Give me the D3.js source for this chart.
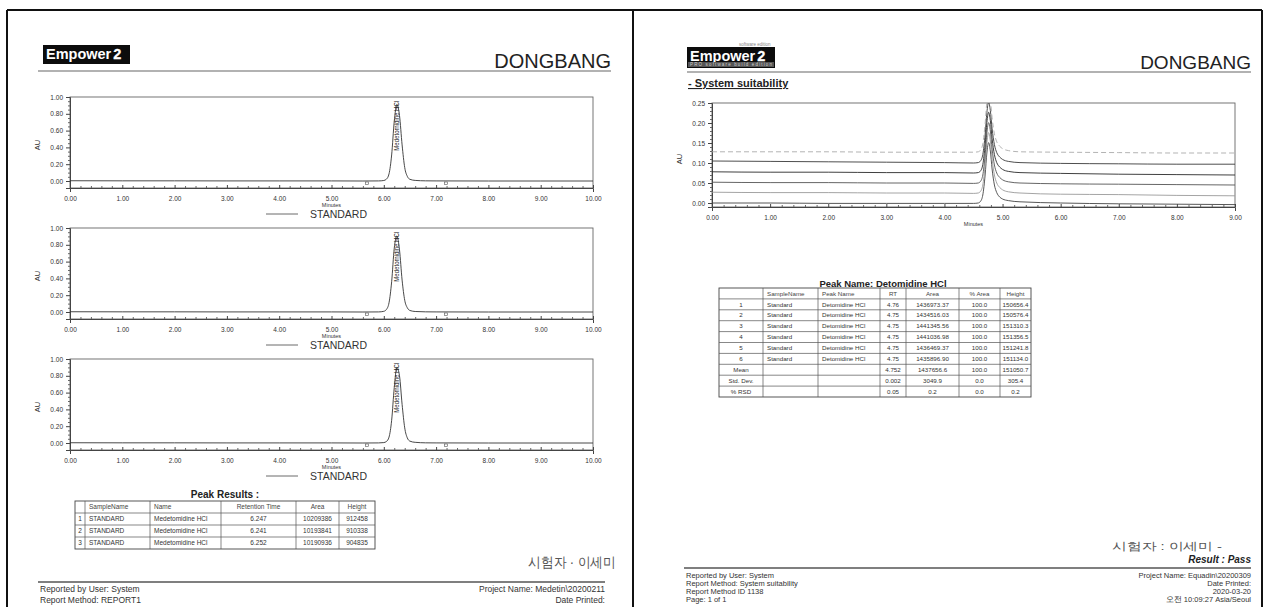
<!DOCTYPE html>
<html><head><meta charset="utf-8">
<script src="https://cdn.jsdelivr.net/npm/d3@7"></script>
<style>
body{margin:0;background:#fff}
svg{display:block}
text{font-family:Arial,"Liberation Sans",sans-serif;fill:#222}
</style></head><body><script>
// ---------------- DATA ----------------
const stdTime = [0,1,2,3,4,5,5.6,5.9,6.0,6.05,6.1,6.15,6.2,6.25,6.3,6.35,6.4,6.45,6.5,6.6,6.8,7.0,8,9,10];
const std1AU = [0.003,0.002,0.002,0.001,0.001,0.001,0.000,0.001,0.006,0.022,0.085,0.31,0.71,0.912,0.78,0.43,0.16,0.055,0.02,0.007,0.002,0.001,0.000,0.000,0.000];
const std2AU = [0.003,0.002,0.002,0.001,0.001,0.001,0.000,0.001,0.008,0.030,0.110,0.36,0.76,0.905,0.74,0.38,0.14,0.050,0.018,0.006,0.002,0.001,0.000,0.000,0.000];
const std3AU = [0.003,0.002,0.002,0.001,0.001,0.001,0.000,0.001,0.005,0.018,0.070,0.27,0.66,0.900,0.80,0.46,0.18,0.060,0.022,0.008,0.002,0.001,0.000,0.000,0.000];
const stdMarkers = [5.68, 7.19];
const leftXTicks = [0,1,2,3,4,5,6,7,8,9,10];
const leftYTicks = [0,0.2,0.4,0.6,0.8,1.0];
const peakLabel = "Medetomidine HCl";
const legendLabel = "STANDARD";

const sysTime = [0,1,2,3,4,4.5,4.58,4.62,4.66,4.7,4.73,4.76,4.79,4.82,4.86,4.9,4.95,5.0,5.1,5.3,6,7,8,9];
const sysInj1 = [0.000,0.000,-0.001,-0.001,-0.001,-0.001,0.000,0.004,0.020,0.070,0.125,0.151,0.130,0.085,0.045,0.026,0.015,0.010,0.006,0.003,0.000,-0.002,-0.003,-0.004];
const sysInj2 = [0.027,0.026,0.026,0.025,0.025,0.024,0.025,0.029,0.045,0.095,0.150,0.176,0.155,0.110,0.070,0.050,0.039,0.033,0.028,0.025,0.022,0.021,0.019,0.018];
const sysInj3 = [0.052,0.051,0.051,0.050,0.050,0.049,0.050,0.054,0.070,0.120,0.175,0.201,0.180,0.135,0.095,0.075,0.064,0.058,0.053,0.050,0.048,0.047,0.046,0.045];
const sysInj4 = [0.078,0.077,0.077,0.076,0.076,0.075,0.076,0.080,0.096,0.146,0.201,0.227,0.206,0.161,0.121,0.101,0.090,0.084,0.079,0.076,0.074,0.072,0.071,0.070];
const sysInj5 = [0.105,0.104,0.103,0.102,0.101,0.100,0.101,0.105,0.121,0.171,0.226,0.252,0.231,0.186,0.146,0.126,0.115,0.109,0.104,0.101,0.099,0.098,0.097,0.097];
const sysInj6 = [0.128,0.128,0.128,0.127,0.127,0.127,0.128,0.132,0.148,0.198,0.253,0.279,0.258,0.213,0.173,0.153,0.142,0.136,0.131,0.128,0.127,0.126,0.125,0.125];
const rightXTicks = [0,1,2,3,4,5,6,7,8,9];
const rightYTicks = [0,0.05,0.10,0.15,0.20,0.25];

const peakResultsHead = ["", "SampleName", "Name", "Retention Time", "Area", "Height"];
const peakResultsRows = [
  ["1","STANDARD","Medetomidine HCl","6.247","10209386","912458"],
  ["2","STANDARD","Medetomidine HCl","6.241","10193841","910338"],
  ["3","STANDARD","Medetomidine HCl","6.252","10190936","904835"]
];
const suitHead = ["", "SampleName", "Peak Name", "RT", "Area", "% Area", "Height"];
const suitRows = [
  ["1","Standard","Detomidine HCl","4.76","1436973.37","100.0","150656.4"],
  ["2","Standard","Detomidine HCl","4.75","1434516.03","100.0","150576.4"],
  ["3","Standard","Detomidine HCl","4.75","1441345.56","100.0","151310.3"],
  ["4","Standard","Detomidine HCl","4.75","1441036.98","100.0","151356.5"],
  ["5","Standard","Detomidine HCl","4.75","1436469.37","100.0","151241.8"],
  ["6","Standard","Detomidine HCl","4.75","1435896.90","100.0","151134.0"],
  ["Mean","","","4.752","1437656.6","100.0","151050.7"],
  ["Std. Dev.","","","0.002","3049.9","0.0","305.4"],
  ["% RSD","","","0.05","0.2","0.0","0.2"]
];

// ---------------- DRAW ----------------
const W = 1265, H = 607;
const svg = d3.select("body").append("svg").attr("width", W).attr("height", H);
svg.append("rect").attr("width", W).attr("height", H).attr("fill", "#fff");

// page borders
const border = svg.append("g").attr("stroke", "#111").attr("stroke-width", 2).attr("fill", "none");
border.append("line").attr("x1", 7).attr("x2", 1262).attr("y1", 10).attr("y2", 10);
border.append("line").attr("x1", 7).attr("x2", 7).attr("y1", 10).attr("y2", H);
border.append("line").attr("x1", 633).attr("x2", 633).attr("y1", 10).attr("y2", H);
border.append("line").attr("x1", 1262).attr("x2", 1262).attr("y1", 10).attr("y2", H);

function logo(x, y, w, h, strip) {
  const g = svg.append("g");
  g.append("rect").attr("x", x).attr("y", y).attr("width", w).attr("height", h).attr("fill", "#0c0c0c");
  const t1 = g.append("text").attr("x", x + 3).attr("y", y + 14).attr("font-size", 14.5).attr("font-weight", "bold")
    .style("fill", "#fff").text("Empower");
  const tw = t1.node().getComputedTextLength();
  g.append("text").attr("x", x + 3 + tw + 2).attr("y", y + 14).attr("font-size", 14.5).attr("font-weight", "bold")
    .style("fill", "#fff").style("stroke", "#fff").style("stroke-width", 0.3).text("2");
  if (strip) {
    g.append("text").attr("x", x + w - 36).attr("y", y - 1).attr("font-size", 4.5).style("fill", "#888").text("software  edition");
    g.append("rect").attr("x", x + 1).attr("y", y + h - 6).attr("width", w - 2).attr("height", 5).attr("fill", "#555");
    g.append("text").attr("x", x + 3).attr("y", y + h - 2).attr("font-size", 4.5).style("fill", "#ccc")
      .attr("textLength", w - 6).text("PRO   software   build   edition");
  }
}
logo(43, 45, 87, 19, false);
logo(687, 47, 88, 21, true);

svg.append("text").attr("x", 611).attr("y", 68).attr("text-anchor", "end").attr("font-size", 20).text("DONGBANG");
svg.append("text").attr("x", 1251).attr("y", 69).attr("text-anchor", "end").attr("font-size", 19).text("DONGBANG");
svg.append("line").attr("x1", 38).attr("x2", 611).attr("y1", 71).attr("y2", 71).attr("stroke", "#666").attr("stroke-width", 1.2);
svg.append("line").attr("x1", 687).attr("x2", 1251).attr("y1", 72).attr("y2", 72).attr("stroke", "#666").attr("stroke-width", 1.2);

const fmt2 = d3.format(".2f");

function panel(opts) {
  const {x0, x1, top, zeroY, bottom, xDomain, yTop, yTickVals, xTickVals, yMinorStep, xMinorStep} = opts;
  const g = svg.append("g");
  const yBottomVal = -(bottom - zeroY) / (zeroY - top) * yTop;
  const x = d3.scaleLinear().domain(xDomain).range([x0, x1]);
  const y = d3.scaleLinear().domain([yBottomVal, yTop]).range([bottom, top]);
  const clipId = "clip" + Math.round(top) + "_" + Math.round(x0);
  svg.append("clipPath").attr("id", clipId).append("rect")
    .attr("x", x0).attr("y", top).attr("width", x1 - x0).attr("height", bottom - top);
  g.append("rect").attr("x", x0).attr("y", top).attr("width", x1 - x0).attr("height", bottom - top)
    .attr("fill", "none").attr("stroke", "#666").attr("stroke-width", 0.9);
  const ya = g.append("g").attr("transform", `translate(${x0},0)`)
    .call(d3.axisLeft(y).tickValues(yTickVals).tickSize(4).tickFormat(fmt2));
  ya.selectAll("text").attr("font-size", 6.5).attr("font-family", "Arial").style("fill", "#333");
  ya.select(".domain").attr("stroke", "#444");
  ya.selectAll(".tick line").attr("stroke", "#444");
  const yMinor = d3.range(0, yTop + 1e-9, yMinorStep).filter(v => !yTickVals.some(t => Math.abs(t - v) < 1e-6));
  const ym = g.append("g").attr("transform", `translate(${x0},0)`)
    .call(d3.axisLeft(y).tickValues(yMinor).tickSize(2).tickFormat(""));
  ym.select(".domain").remove(); ym.selectAll("line").attr("stroke", "#666");
  const xa = g.append("g").attr("transform", `translate(0,${bottom})`)
    .call(d3.axisBottom(x).tickValues(xTickVals).tickSize(4).tickFormat(fmt2));
  xa.selectAll("text").attr("font-size", 6.5).attr("font-family", "Arial").style("fill", "#333").attr("dy", "0.9em");
  xa.select(".domain").attr("stroke", "#444");
  xa.selectAll(".tick line").attr("stroke", "#444").attr("y2", -3);
  const xMinor = d3.range(xDomain[0], xDomain[1] + 1e-9, xMinorStep).filter(v => !xTickVals.some(t => Math.abs(t - v) < 1e-6));
  const xm = g.append("g").attr("transform", `translate(0,${bottom})`)
    .call(d3.axisBottom(x).tickValues(xMinor).tickSize(-2).tickFormat(""));
  xm.select(".domain").remove(); xm.selectAll("line").attr("stroke", "#666");
  g.append("text").attr("x", (x0 + x1) / 2).attr("y", bottom + 19).attr("text-anchor", "middle")
    .attr("font-size", 5.5).style("fill", "#333").text("Minutes");
  g.append("text").attr("transform", `translate(${x0 - 30},${(top + zeroY) / 2 + 6}) rotate(-90)`)
    .attr("text-anchor", "middle").attr("font-size", 7.5).style("fill", "#333").text("AU");
  return {g, x, y, clipId};
}

const line = (x, y) => d3.line().x(d => x(d[0])).y(d => y(d[1])).curve(d3.curveMonotoneX);

// ---- left page chromatograms ----
const leftSets = [std1AU, std2AU, std3AU];
const leftTops = [97, 228, 359];
leftSets.forEach((vals, i) => {
  const top = leftTops[i];
  const p = panel({x0: 70, x1: 593, top, zeroY: top + 84, bottom: top + 91, xDomain: [0, 10], yTop: 1.0,
    yTickVals: leftYTicks, xTickVals: leftXTicks, yMinorStep: 0.05, xMinorStep: 0.2});
  const pts = stdTime.map((t, k) => [t, vals[k]]);
  p.g.append("path").attr("d", line(p.x, p.y)(pts)).attr("fill", "none").attr("stroke", "#333")
    .attr("stroke-width", 0.9).attr("clip-path", `url(#${p.clipId})`);
  stdMarkers.forEach(m => {
    p.g.append("rect").attr("x", p.x(m) - 1.5).attr("y", p.y(0) + 1).attr("width", 3).attr("height", 2.5)
      .attr("fill", "none").attr("stroke", "#555").attr("stroke-width", 0.6);
  });
  const peakIdx = vals.indexOf(d3.max(vals));
  p.g.append("text").attr("transform", `translate(${p.x(stdTime[peakIdx]) + 2.5},${p.y(0.36)}) rotate(-90)`)
    .attr("font-size", 6.5).attr("textLength", 50).attr("lengthAdjust", "spacingAndGlyphs")
    .style("fill", "#222").text(peakLabel);
  const ly = top + 117;
  p.g.append("line").attr("x1", 266).attr("x2", 298).attr("y1", ly).attr("y2", ly).attr("stroke", "#444").attr("stroke-width", 0.8);
  p.g.append("text").attr("x", 310).attr("y", ly + 4).attr("font-size", 10.5).style("fill", "#333").text(legendLabel);
});

// ---- right page overlay ----
svg.append("text").attr("x", 688).attr("y", 87).attr("font-size", 11).attr("font-weight", "bold")
  .attr("text-decoration", "underline").text("- System suitability");
const rp = panel({x0: 712, x1: 1235, top: 103, zeroY: 203, bottom: 207, xDomain: [0, 9], yTop: 0.25,
  yTickVals: rightYTicks, xTickVals: rightXTicks, yMinorStep: 0.01, xMinorStep: 0.2});
const sysSets = [
  {v: sysInj1, c: "#444", d: null},
  {v: sysInj2, c: "#9a9a9a", d: null},
  {v: sysInj3, c: "#555", d: null},
  {v: sysInj4, c: "#2a2a2a", d: null},
  {v: sysInj5, c: "#3a3a3a", d: null},
  {v: sysInj6, c: "#aaa", d: "5,3"}
];
sysSets.forEach(s => {
  const pts = sysTime.map((t, k) => [t, s.v[k]]);
  rp.g.append("path").attr("d", line(rp.x, rp.y)(pts)).attr("fill", "none").attr("stroke", s.c)
    .attr("stroke-width", 0.9).attr("stroke-dasharray", s.d).attr("clip-path", `url(#${rp.clipId})`);
});

// ---- tables ----
function table(top, colEdges, rowH, head, rows, fs, aligns) {
  const g = svg.append("g");
  const nRows = rows.length + 1;
  const bottom = top + rowH * nRows;
  g.append("rect").attr("x", colEdges[0]).attr("y", top).attr("width", colEdges[colEdges.length - 1] - colEdges[0])
    .attr("height", bottom - top).attr("fill", "none").attr("stroke", "#444").attr("stroke-width", 0.9);
  colEdges.slice(1, -1).forEach(cx => g.append("line").attr("x1", cx).attr("x2", cx).attr("y1", top).attr("y2", bottom)
    .attr("stroke", "#555").attr("stroke-width", 0.7));
  for (let r = 1; r < nRows; r++) g.append("line").attr("x1", colEdges[0]).attr("x2", colEdges[colEdges.length - 1])
    .attr("y1", top + r * rowH).attr("y2", top + r * rowH).attr("stroke", "#555").attr("stroke-width", 0.7);
  [head, ...rows].forEach((row, r) => {
    row.forEach((cell, c) => {
      const a = aligns[c];
      const l = colEdges[c], rr = colEdges[c + 1];
      const tx = a === "start" ? l + 4 : (l + rr) / 2;
      g.append("text").attr("x", tx).attr("y", top + r * rowH + rowH / 2 + fs * 0.36)
        .attr("text-anchor", a).attr("font-size", fs).style("fill", r === 0 ? "#444" : "#333").text(cell);
    });
  });
}
svg.append("text").attr("x", 225).attr("y", 498).attr("text-anchor", "middle").attr("font-size", 10)
  .attr("font-weight", "bold").text("Peak Results :");
table(501, [75, 85, 150, 221, 296, 339, 375], 12, peakResultsHead, peakResultsRows, 6.5,
  ["middle", "start", "start", "middle", "middle", "middle"]);

svg.append("text").attr("x", 883).attr("y", 287).attr("text-anchor", "middle").attr("font-size", 9.5)
  .attr("font-weight", "bold").text("Peak Name: Detomidine HCl");
table(288, [719, 763, 818, 880, 906, 959, 1000, 1031], 10.9, suitHead, suitRows, 6.2,
  ["middle", "start", "start", "middle", "middle", "middle", "middle"]);

// ---- signatures ----
svg.append("text").attr("x", 528).attr("y", 567).attr("font-size", 14).attr("font-family", "Noto Sans CJK KR")
  .attr("font-weight", 300).attr("textLength", 88).attr("lengthAdjust", "spacingAndGlyphs")
  .style("fill", "#555").text("시험자 · 이세미");
svg.append("text").attr("x", 1112).attr("y", 550).attr("font-size", 11).attr("font-family", "Noto Sans CJK KR")
  .attr("font-weight", 300).attr("textLength", 110).attr("lengthAdjust", "spacingAndGlyphs")
  .style("fill", "#555").text("시험자 : 이세미 -");

// ---- footers ----
const ft = 8.5;
svg.append("line").attr("x1", 38).attr("x2", 605).attr("y1", 582).attr("y2", 582).attr("stroke", "#555").attr("stroke-width", 1.3);
[["Reported by User:  System", 592], ["Report Method:  REPORT1", 603]].forEach(([t, y]) =>
  svg.append("text").attr("x", 40).attr("y", y).attr("font-size", ft).style("fill", "#333").text(t));
[["Project Name:    Medetin\\20200211", 592], ["Date Printed:", 603]].forEach(([t, y]) =>
  svg.append("text").attr("x", 605).attr("y", y).attr("text-anchor", "end").attr("font-size", ft).style("fill", "#333").text(t));

svg.append("text").attr("x", 1251).attr("y", 563).attr("text-anchor", "end").attr("font-size", 10)
  .attr("font-weight", "bold").attr("font-style", "italic").text("Result : Pass");
svg.append("line").attr("x1", 684).attr("x2", 1251).attr("y1", 568).attr("y2", 568).attr("stroke", "#555").attr("stroke-width", 1.3);
[["Reported by User:  System", 578], ["Report Method:  System suitability", 586], ["Report Method ID 1138", 594], ["Page: 1 of 1", 602]]
  .forEach(([t, y]) => svg.append("text").attr("x", 686).attr("y", y).attr("font-size", 7.5).style("fill", "#333").text(t));
[["Project Name:    Equadin\\20200309", 578], ["Date Printed:", 586], ["2020-03-20", 594], ["오전 10:09:27 Asia/Seoul", 602]]
  .forEach(([t, y]) => svg.append("text").attr("x", 1251).attr("y", y).attr("text-anchor", "end").attr("font-size", 7.5).style("fill", "#333").text(t));
</script></body></html>
